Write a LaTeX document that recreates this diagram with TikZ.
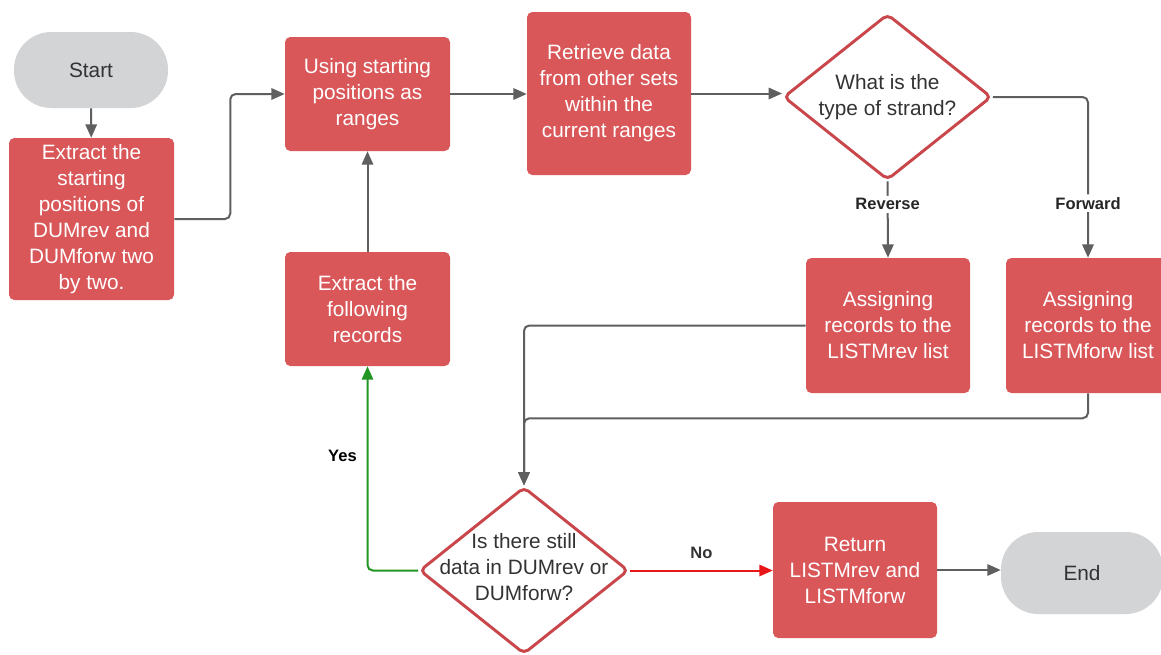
\documentclass[tikz,border=0pt]{standalone}
\usepackage{fontspec}
\setmainfont{Liberation Sans}
\usetikzlibrary{arrows.meta,shapes.geometric}
\definecolor{boxred}{RGB}{217,87,89}
\definecolor{edgered}{RGB}{201,70,74}
\definecolor{termgray}{RGB}{211,212,214}
\definecolor{linegray}{RGB}{95,95,95}
\definecolor{txtgray}{RGB}{51,51,51}
\definecolor{yesgreen}{RGB}{34,150,34}
\definecolor{nored}{RGB}{232,22,22}
\newcommand\pxu{0.75pt}
\tikzset{
  basefont/.style={font=\fontsize{15.6}{19.5}\selectfont},
  proc/.style={rectangle, rounded corners=4pt, fill=boxred, text=white,
    align=center, inner sep=0pt, basefont},
  term/.style={rectangle, rounded corners=28pt, fill=termgray, text=txtgray,
    align=center, inner sep=0pt, basefont},
  decision/.style={diamond, draw=edgered, line width=2.2pt, fill=white,
    rounded corners=4pt, inner sep=0pt},
  dtext/.style={align=center, text=txtgray, basefont, inner sep=0pt},
  tip/.style={-{Triangle[length=10pt,width=8.5pt]}},
  conn/.style={linegray, line width=1.5pt, rounded corners=4pt, tip},
  lbl/.style={font=\fontsize{12.4}{14}\selectfont\bfseries, text=black!85},
}
\begin{document}
\begin{tikzpicture}[x=0.75pt,y=-0.75pt]
\useasboundingbox (0,0) rectangle (1161,654);
\clip (0,0) rectangle (1161,654);
\fill[white] (0,0) rectangle (1161,654);

% terminals
\node[term, minimum width=154*\pxu, minimum height=76*\pxu] (start) at (91,70) {Start};
\node[term, minimum width=162*\pxu, minimum height=82*\pxu] (end) at (1082,573) {End};

% process boxes
\node[proc, minimum width=165*\pxu, minimum height=162*\pxu] (extract) at (91.5,219)
  {Extract the\\starting\\positions of\\DUMrev and\\DUMforw two\\by two.};
\node[proc, minimum width=165*\pxu, minimum height=114*\pxu] (using) at (367.5,94)
  {Using starting\\positions as\\ranges};
\node[proc, minimum width=164*\pxu, minimum height=163*\pxu] (retrieve) at (609,93.5)
  {Retrieve data\\from other sets\\within the\\current ranges};
\node[proc, minimum width=165*\pxu, minimum height=114*\pxu] (follow) at (367.5,309)
  {Extract the\\following\\records};
\node[proc, minimum width=164*\pxu, minimum height=135*\pxu] (rev) at (888,325.5)
  {Assigning\\records to the\\LISTMrev list};
\node[proc, minimum width=164*\pxu, minimum height=135*\pxu] (forw) at (1088,325.5)
  {Assigning\\records to the\\LISTMforw list};
\node[proc, minimum width=164*\pxu, minimum height=136*\pxu] (ret) at (855,570)
  {Return\\LISTMrev and\\LISTMforw};

% decisions
\node[decision, minimum width=208*\pxu, minimum height=166*\pxu] (d1) at (887.5,97) {};
\node[dtext] (d1t) at (d1) {What is the\\type of strand?};
\node[decision, minimum width=209*\pxu, minimum height=167*\pxu] (d2) at (524,570.5) {};
\node[dtext, yshift=2.25pt] (d2t) at (d2) {Is there still\\data in DUMrev or\\DUMforw?};

% connectors
\draw[conn] (start) -- (extract);
\draw[conn] (extract.east) -- ++(56,0) |- (using.west);
\draw[conn] (using.east) -- (using.east -| retrieve.west);
\draw[conn] (retrieve.east) -- (retrieve.east -| d1.west);
\draw[conn] (d1.south) -- node[lbl, fill=white, pos=0.3, inner sep=2pt] (lrev) {Reverse} (rev.north);
\draw[conn] (d1.east) -| node[lbl, fill=white, pos=0.83, inner sep=2pt] (lfwd) {Forward} (forw.north);
\draw[conn] (follow.north) -- (using.south);
\draw[conn] (rev.west) -| (d2.north);
\draw[conn] (forw.south) -- ++(0,25) -| (d2.north);
\draw[conn, yesgreen]
  (d2.west) -| node[lbl, pos=0.78, left=4pt, text=black] (lyes) {Yes} (follow.south);
\draw[conn, nored]
  (d2.east) -- node[lbl, above=5pt, text=black!80] (lno) {No} (d2.east -| ret.west);
\draw[conn] (ret.east) -- (ret.east -| end.west);
\end{tikzpicture}
\end{document}
